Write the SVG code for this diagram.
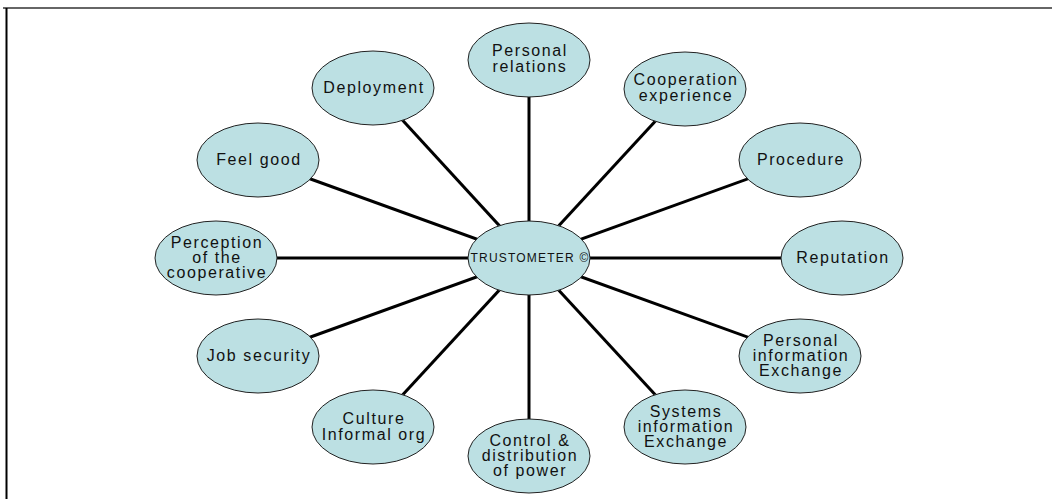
<svg xmlns="http://www.w3.org/2000/svg" width="1052" height="499" viewBox="0 0 1052 499">
<style>
.node ellipse{fill:#bce0e3;stroke:#222;stroke-width:1}
.node text{font-family:"Liberation Sans",Arial,sans-serif;font-size:16px;letter-spacing:1.6px;fill:#111;text-anchor:middle}
#center text{font-size:12px;letter-spacing:1.2px}
.conn line{stroke:#000;stroke-width:3}
</style>
<rect width="1052" height="499" fill="#fff"/>
<line x1="3" y1="8" x2="1052" y2="8" stroke="#333" stroke-width="1.5"/>
<line x1="6.5" y1="8" x2="6.5" y2="499" stroke="#000" stroke-width="2"/>
<g id="connectors" class="conn">
<line x1="529" y1="258" x2="529" y2="60"/>
<line x1="529" y1="258" x2="685" y2="89"/>
<line x1="529" y1="258" x2="800" y2="160"/>
<line x1="529" y1="258" x2="842" y2="258"/>
<line x1="529" y1="258" x2="800" y2="356"/>
<line x1="529" y1="258" x2="685" y2="427"/>
<line x1="529" y1="258" x2="529" y2="456"/>
<line x1="529" y1="258" x2="373" y2="427"/>
<line x1="529" y1="258" x2="258" y2="356"/>
<line x1="529" y1="258" x2="216" y2="258"/>
<line x1="529" y1="258" x2="258" y2="160"/>
<line x1="529" y1="258" x2="373" y2="88"/>
</g>
<g id="center" class="node"><ellipse cx="529" cy="258" rx="61" ry="37"/><text x="530" y="262">TRUSTOMETER ©</text></g>
<g id="personal-relations" class="node"><ellipse cx="529" cy="60" rx="61" ry="37"/><text x="530" y="56">Personal</text><text x="530" y="72">relations</text></g>
<g id="cooperation-experience" class="node"><ellipse cx="685" cy="89" rx="61" ry="37"/><text x="686" y="85">Cooperation</text><text x="686" y="101">experience</text></g>
<g id="procedure" class="node"><ellipse cx="800" cy="160" rx="61" ry="37"/><text x="801" y="165">Procedure</text></g>
<g id="reputation" class="node"><ellipse cx="842" cy="258" rx="61" ry="37"/><text x="843" y="263">Reputation</text></g>
<g id="personal-information-exchange" class="node"><ellipse cx="800" cy="356" rx="61" ry="37"/><text x="801" y="346">Personal</text><text x="801" y="361">information</text><text x="801" y="376">Exchange</text></g>
<g id="systems-information-exchange" class="node"><ellipse cx="685" cy="427" rx="61" ry="37"/><text x="686" y="417">Systems</text><text x="686" y="432">information</text><text x="686" y="447">Exchange</text></g>
<g id="control-distribution" class="node"><ellipse cx="529" cy="456" rx="61" ry="37"/><text x="530" y="446">Control &amp;</text><text x="530" y="461">distribution</text><text x="530" y="476">of power</text></g>
<g id="culture" class="node"><ellipse cx="373" cy="427" rx="61" ry="37"/><text x="374" y="424">Culture</text><text x="374" y="440">Informal org</text></g>
<g id="job-security" class="node"><ellipse cx="258" cy="356" rx="61" ry="37"/><text x="259" y="361">Job security</text></g>
<g id="perception" class="node"><ellipse cx="216" cy="258" rx="61" ry="37"/><text x="217" y="248">Perception</text><text x="217" y="263">of the</text><text x="217" y="278">cooperative</text></g>
<g id="feel-good" class="node"><ellipse cx="258" cy="160" rx="61" ry="37"/><text x="259" y="165">Feel good</text></g>
<g id="deployment" class="node"><ellipse cx="373" cy="88" rx="61" ry="37"/><text x="374" y="93">Deployment</text></g>
</svg>
